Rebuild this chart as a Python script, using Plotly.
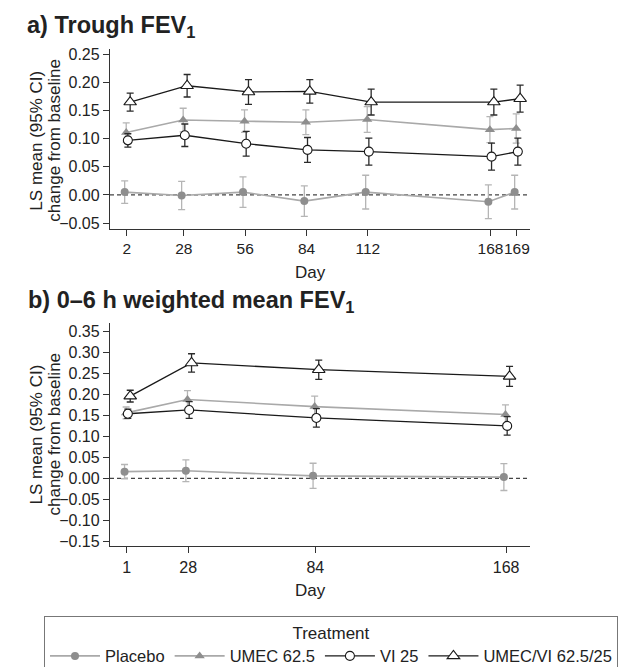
import plotly.graph_objects as go

# ---------------- data ----------------
series_names = ["Placebo", "UMEC 62.5", "VI 25", "UMEC/VI 62.5/25"]

# Panel a: Trough FEV1
days_a = [2, 28, 56, 84, 112, 168, 169]
pos_a = [2, 28, 56, 84, 112, 168, 180]          # axis position (scale break after 168)
tick_a = ["2", "28", "56", "84", "112", "168", "169"]
placebo_a = [0.005, -0.001, 0.005, -0.011, 0.005, -0.012, 0.005]
placebo_a_ci = [0.020, 0.025, 0.027, 0.027, 0.030, 0.030, 0.030]
umec_a = [0.111, 0.133, 0.131, 0.129, 0.134, 0.116, 0.118]
umec_a_ci = [0.017, 0.021, 0.020, 0.022, 0.023, 0.023, 0.026]
vi_a = [0.097, 0.106, 0.091, 0.080, 0.077, 0.068, 0.077]
vi_a_ci = [0.012, 0.020, 0.022, 0.022, 0.024, 0.024, 0.024]
umecvi_a = [0.165, 0.194, 0.183, 0.184, 0.165, 0.165, 0.171]
umecvi_a_ci = [0.016, 0.020, 0.022, 0.021, 0.023, 0.023, 0.024]

# Panel b: 0-6 h weighted mean FEV1
days_b = [1, 28, 84, 168]
tick_b = ["1", "28", "84", "168"]
placebo_b = [0.016, 0.018, 0.006, 0.003]
placebo_b_ci = [0.017, 0.026, 0.030, 0.032]
umec_b = [0.156, 0.188, 0.171, 0.152]
umec_b_ci = [0.014, 0.021, 0.025, 0.023]
vi_b = [0.154, 0.163, 0.144, 0.125]
vi_b_ci = [0.011, 0.020, 0.022, 0.022]
umecvi_b = [0.196, 0.275, 0.259, 0.243]
umecvi_b_ci = [0.014, 0.022, 0.023, 0.024]

yticks_a = [-0.05, 0.00, 0.05, 0.10, 0.15, 0.20, 0.25]
yticks_b = [-0.15, -0.10, -0.05, 0.00, 0.05, 0.10, 0.15, 0.20, 0.25, 0.30, 0.35]

# ---------------- styles ----------------
FONT = "Liberation Sans, Arial, sans-serif"
TXT = "#222222"
W, H = 641, 667
dodge = [-1.0, -0.3, 0.45, 1.5]
styles = [
    dict(line=dict(color="#a9a9a9", width=1.6),
         marker=dict(symbol="circle", size=8, color="#8e8e8e", line=dict(width=0)),
         err="#b5b5b5"),
    dict(line=dict(color="#a9a9a9", width=1.6),
         marker=dict(symbol="triangle-up", size=9, color="#8e8e8e", line=dict(width=0)),
         err="#b5b5b5"),
    dict(line=dict(color="#1a1a1a", width=1.3),
         marker=dict(symbol="circle", size=9, color="white", line=dict(color="#1a1a1a", width=1.1)),
         err="#2a2a2a"),
    dict(line=dict(color="#1a1a1a", width=1.3),
         marker=dict(symbol="triangle-up", size=11, color="white", line=dict(color="#1a1a1a", width=1.1)),
         err="#2a2a2a"),
]

fig = go.Figure()

panel_a = [(placebo_a, placebo_a_ci), (umec_a, umec_a_ci), (vi_a, vi_a_ci), (umecvi_a, umecvi_a_ci)]
panel_b = [(placebo_b, placebo_b_ci), (umec_b, umec_b_ci), (vi_b, vi_b_ci), (umecvi_b, umecvi_b_ci)]

for i, (vals, ci) in enumerate(panel_a):
    st = styles[i]
    fig.add_trace(go.Scatter(
        x=[p + dodge[i] for p in pos_a], y=vals, mode="lines+markers",
        name=series_names[i], line=st["line"], marker=st["marker"],
        error_y=dict(type="data", array=ci, color=st["err"], thickness=1.3, width=3.5),
        xaxis="x", yaxis="y", showlegend=True, legendrank=i + 1))

for i, (vals, ci) in enumerate(panel_b):
    st = styles[i]
    fig.add_trace(go.Scatter(
        x=[p + dodge[i] for p in days_b], y=vals, mode="lines+markers",
        name=series_names[i], line=st["line"], marker=st["marker"],
        error_y=dict(type="data", array=ci, color=st["err"], thickness=1.3, width=3.5),
        xaxis="x2", yaxis="y2", showlegend=False))


def px_x(p):
    return p / W


def px_y(p):
    return 1 - p / H


axis_common = dict(showline=True, linecolor="#333333", linewidth=1.3, ticks="outside",
                   ticklen=6, tickwidth=1.2, tickcolor="#333333", showgrid=False,
                   zeroline=False, tickangle=0, tickfont=dict(family=FONT, size=16, color=TXT))

ytitle_font = dict(family=FONT, size=17, color=TXT)

fig.update_layout(
    width=W, height=H, margin=dict(l=0, r=0, t=0, b=0),
    paper_bgcolor="white", plot_bgcolor="white",
    font=dict(family=FONT, color=TXT),
    xaxis=dict(axis_common, domain=[px_x(102), px_x(522)], range=[-5.7, 186.0],
               tickvals=pos_a, ticktext=tick_a, anchor="y",
               tickfont=dict(family=FONT, size=15.5, color=TXT)),
    yaxis=dict(axis_common, domain=[px_y(220), px_y(38)], range=[-0.06, 0.26],
               tickvals=yticks_a, tickformat=".2f", anchor="x"),
    xaxis2=dict(axis_common, domain=[px_x(102), px_x(522)], range=[-6.4, 178.5],
                tickvals=days_b, ticktext=tick_b, anchor="y2"),
    yaxis2=dict(axis_common, domain=[px_y(541), px_y(315)], range=[-0.162, 0.371],
                tickvals=yticks_b, tickformat=".2f", anchor="x2"),
    legend=dict(orientation="h", x=px_x(323), xanchor="center", y=px_y(611), yanchor="top",
                bordercolor="#777777", borderwidth=1, bgcolor="white",
                font=dict(family=FONT, size=16.5, color=TXT),
                title=dict(text="Treatment", side="top center", font=dict(family=FONT, size=17, color=TXT)),
                itemwidth=50),
    shapes=[
        dict(type="line", xref="x domain", yref="y", x0=0, x1=1, y0=0, y1=0,
             line=dict(color="#444444", width=1.2, dash="4px,3px"), layer="below"),
        dict(type="line", xref="x2 domain", yref="y2", x0=0, x1=1, y0=0, y1=0,
             line=dict(color="#444444", width=1.2, dash="4px,3px"), layer="below"),
    ],
    annotations=[
        dict(text="<b>a) Trough FEV<sub>1</sub></b>", x=px_x(18), y=px_y(0), xref="paper", yref="paper",
             xanchor="left", yanchor="top", showarrow=False, borderpad=0,
             font=dict(family=FONT, size=23.5, color=TXT)),
        dict(text="<b>b) 0–6 h weighted mean FEV<sub>1</sub></b>", x=px_x(18), y=px_y(277), xref="paper", yref="paper",
             xanchor="left", yanchor="top", showarrow=False, font=dict(family=FONT, size=23.5, color=TXT)),
        dict(text="LS mean (95% CI)", x=px_x(29), y=px_y(131), xref="paper", yref="paper",
             xanchor="center", yanchor="middle", textangle=-90, showarrow=False, font=ytitle_font),
        dict(text="change from baseline", x=px_x(47), y=px_y(131), xref="paper", yref="paper",
             xanchor="center", yanchor="middle", textangle=-90, showarrow=False, font=ytitle_font),
        dict(text="LS mean (95% CI)", x=px_x(29), y=px_y(428), xref="paper", yref="paper",
             xanchor="center", yanchor="middle", textangle=-90, showarrow=False, font=ytitle_font),
        dict(text="change from baseline", x=px_x(47), y=px_y(428), xref="paper", yref="paper",
             xanchor="center", yanchor="middle", textangle=-90, showarrow=False, font=ytitle_font),
        dict(text="Day", x=px_x(302), y=px_y(264), xref="paper", yref="paper",
             xanchor="center", yanchor="middle", showarrow=False, font=dict(family=FONT, size=17, color=TXT)),
        dict(text="Day", x=px_x(302), y=px_y(586), xref="paper", yref="paper",
             xanchor="center", yanchor="middle", showarrow=False, font=dict(family=FONT, size=17, color=TXT)),
    ],
)

fig.write_html("out.html")
